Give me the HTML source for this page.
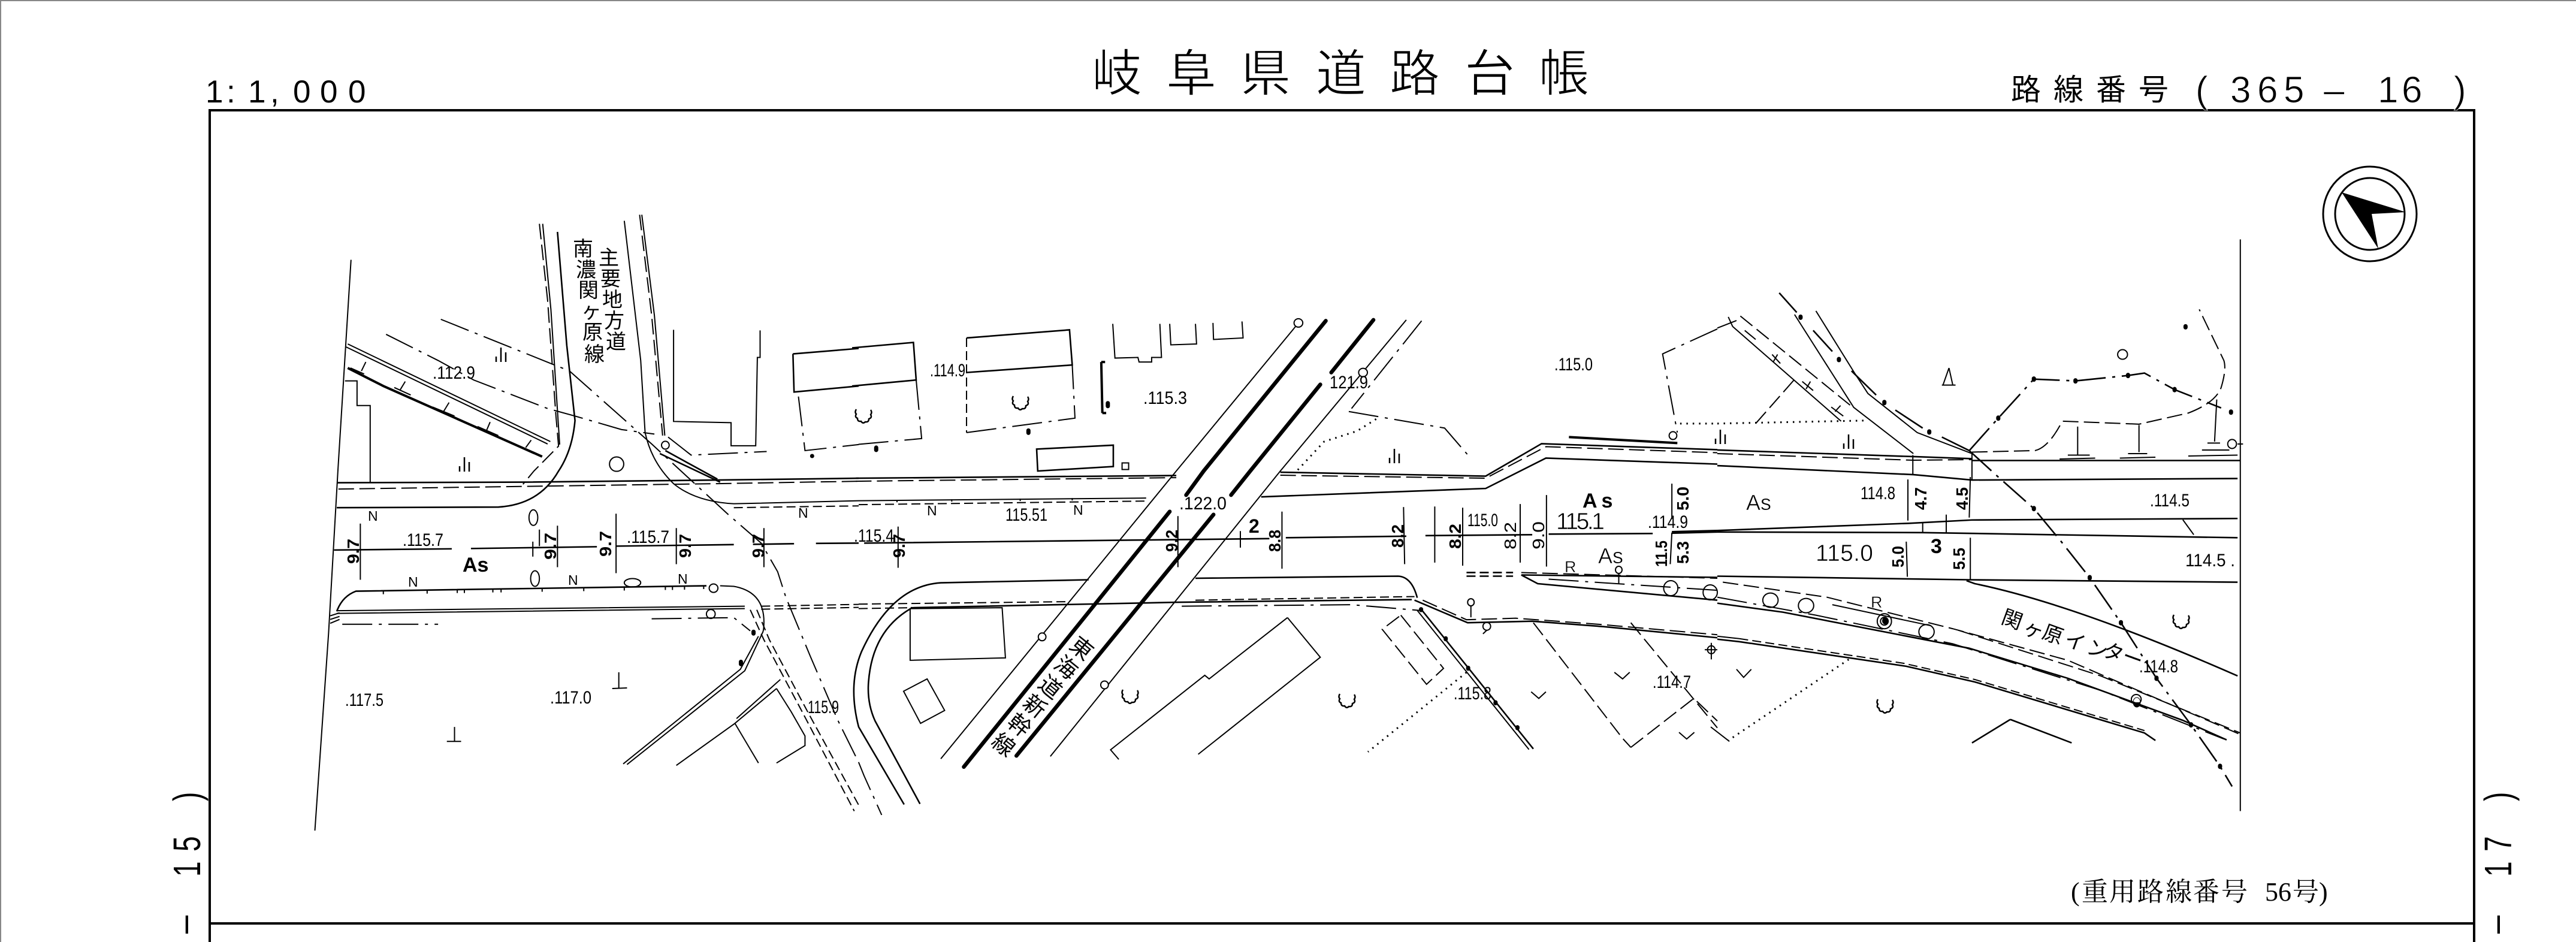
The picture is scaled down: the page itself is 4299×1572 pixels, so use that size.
<!DOCTYPE html>
<html lang="ja"><head><meta charset="utf-8"><title>岐阜県道路台帳</title>
<style>
html,body{margin:0;padding:0;background:#fff}
svg{display:block}
text{font-family:"Liberation Sans","Noto Sans CJK JP",sans-serif;fill:#000}
path,ellipse,rect,polygon{vector-effect:non-scaling-stroke}
.l path,.l ellipse{fill:none;stroke:#000;stroke-width:2}
.l .m{stroke-width:2.6}
.l .b{stroke-width:4}
.l .k{stroke-width:6.5;stroke-linecap:round}
.l .da{stroke-dasharray:26 9}
.l .ds{stroke-dasharray:15 7}
.l .dd{stroke-dasharray:50 11 5 11}
.l .do{stroke-dasharray:2.5 8;stroke-width:3}
.l .c{stroke-width:7;stroke-linecap:round}
.n{font-size:30px}
.r{font-size:28px;font-weight:bold}
</style></head>
<body>
<svg xmlns="http://www.w3.org/2000/svg" width="4299" height="1572" viewBox="0 0 4299 1572">
<defs>
<path id="s" d="M0-12v24M-8 3v9M8-4v16" fill="none" stroke="#000" stroke-width="2.5"/>
<path id="t" d="M-13-11q-3 5 0 8q-3 5 2 7q0 6 6 5q3 5 7 1q6 1 6-5q6-2 3-7q3-4 0-8" fill="none" stroke="#000" stroke-width="2.5"/>
</defs>
<rect width="4299" height="1572" fill="#fff"/>
<path d="M0 1H4299M1 0V1572" stroke="#888" stroke-width="2" fill="none"/>
<!-- frame -->
<path d="M350 1572V184H4129V1572M350 1541H4129" fill="none" stroke="#000" stroke-width="4"/>

<!-- column 1 -->
<g class="l" transform="translate(0,0) scale(.9139,.5013)">
<path d="M641 865L617 1568L600 2108L575 2765"/>
<path class="m" d="M615 1607L960 1605L1310 1598L1568 1592"/>
<path class="da" d="M618 1628L1310 1610L1568 1602"/>
<path class="m" d="M1018 772L1035 1150L1050 1400Q1045 1500 1020 1568Q985 1680 910 1688L615 1690"/>
<path class="da" d="M985 745L1000 1000L1015 1380L1020 1485L975 1568L955 1612"/>
<path d="M991 745L1006 1030L1022 1480"/>
<path d="M1140 735L1170 1200L1178 1440Q1190 1540 1230 1610Q1270 1670 1340 1677L1568 1667"/>
<path class="da" d="M1168 715L1190 1050L1210 1450"/>
<path d="M1172 715L1195 1050L1214 1450"/>
<path class="m" d="M1205 1510L1315 1605M1215 1500L1310 1595"/>
<path class="ds" d="M1340 1690L1568 1684"/>
<path d="M635 1145L1005 1470M632 1155L1000 1478"/>
<path class="b" d="M635 1225L700 1285L990 1520"/>
<path d="M640 1225L665 1245M668 1205L660 1235M720 1290L750 1315M740 1270L730 1300M790 1355L830 1385M820 1340L810 1370M872 1420L910 1450M895 1405L888 1435M945 1485L975 1510M970 1465L960 1490"/>
<path d="M630 1268H652V1350H676V1606"/>
<path class="dd" d="M805 1063L1040 1235L1190 1478L1330 1713L1390 1808L1420 1903L1435 1988L1480 2186L1530 2398L1568 2538"/>
<path class="dd" d="M705 1113L800 1200L865 1265L1000 1360L1050 1385L1135 1430L1195 1445"/>
<path class="dd" d="M1220 1455L1262 1515L1400 1503"/>
<path d="M1230 1098V1403L1335 1407V1484H1380L1383 1190H1388V1100"/>
<path class="m" d="M1448 1178L1568 1160M1448 1178L1450 1305L1568 1285"/>
<path class="dd" d="M1458 1320L1470 1500L1568 1480"/>
<path class="c" d="M1483 1518h0"/>
<ellipse cx="1126" cy="1545" rx="13" ry="24"/>
<ellipse cx="1215" cy="1482" rx="7" ry="13"/>
<!-- centre -->
<path class="m" d="M610 1831L825 1827M860 1826L1090 1820M1125 1818L1340 1813M1375 1812L1450 1810M1490 1809L1568 1808"/>
<path d="M658 1743V1930M1018 1750V1888M1125 1710V1908M1235 1758V1878M1395 1758V1888M973 1803V1853M985 1763V1818"/>
<!-- lower road -->
<path class="m" d="M615 2035Q625 1985 650 1968L1290 1950"/>
<path d="M1315 1950L1340 1952Q1395 1970 1395 2070Q1395 2100 1392 2108L1360 2233L1145 2545"/>
<path d="M1385 2118L1352 2228L1138 2543"/>
<path d="M700 1968v10M780 1966v10M835 1964v10M848 1964v10M900 1962v10M915 1962v10M990 1960v10M1066 1958v10M1140 1956v10M1215 1954v10M1228 1954v10M1250 1953v10M1285 1951v10"/>
<path d="M615 2033L1360 2018M615 2042L1360 2026"/>
<path class="ds" d="M1390 2018L1568 2012M1390 2028L1568 2022"/>
<path class="dd" d="M625 2078H800M1190 2060L1340 2056L1370 2100"/>
<path d="M603 2050L620 2040M603 2062L620 2052M603 2075L620 2062"/>
<ellipse cx="1303" cy="1958" rx="8" ry="14"/>
<ellipse cx="1298" cy="2044" rx="8" ry="15"/>
<path class="c" d="M1376 2103v6M1353 2203v8"/>
<path class="ds" d="M1370 2030L1395 2130L1465 2370L1560 2700"/>
<path class="ds" d="M1382 2030L1405 2130L1475 2370L1568 2680"/>
<path d="M1425 2262L1345 2392M1418 2292L1342 2408L1385 2540M1418 2292L1445 2370L1470 2450V2482L1418 2540M1342 2408L1235 2548"/>
<path d="M1130 2238V2290M1118 2292L1145 2290M830 2420V2466M816 2468H842"/>
<ellipse cx="974" cy="1723" rx="8" ry="26"/><ellipse cx="977" cy="1926" rx="8" ry="26"/>
<ellipse cx="1155" cy="1940" rx="15" ry="14"/>
</g>

<!-- column 2 -->
<g class="l" transform="translate(1433,0) scale(.9139,.5013)">
<path class="m" d="M-12 1158L100 1140L105 1265L-12 1285"/>
<path class="dd" d="M105 1265L115 1460L-5 1480"/>
<path class="m" d="M197 1125L385 1098L390 1215L197 1240"/>
<path class="ds" d="M197 1125L197 1440"/>
<path class="dd" d="M197 1440L395 1392L390 1215"/>
<path class="c" d="M32 1490v8M310 1433v8"/>
<path d="M464 1078L468 1192L510 1190L512 1205H535V1190H553L550 1078M568 1078L570 1148L617 1145L615 1078M647 1075L648 1130L702 1125L700 1070"/>
<path class="b" d="M443 1205L445 1375M443 1205h7M445 1375h7"/>
<path class="c" d="M455 1342v10"/>
<path class="m" d="M325 1495L465 1482V1553L327 1568Z"/>
<path d="M481 1541h12v22h-12z"/>
<!-- road -->
<path class="m" d="M-5 1592L580 1583"/><path class="da" d="M-5 1602L580 1590"/>
<path class="m" d="M770 1572L1145 1585L1247 1477L1568 1497"/>
<path class="da" d="M770 1582L1145 1592L1255 1487L1568 1507"/>
<path class="m" d="M735 1654L1145 1626L1255 1525L1568 1545"/>
<path d="M0 1667L525 1658"/><path class="ds" d="M0 1680L525 1668"/>
<path d="M70 1664v8M170 1662v8M295 1660v8M390 1658v8"/>
<!-- railway -->
<path d="M800 1082L580 1568L150 2526M1000 1065L770 1568L350 2518"/>
<path class="dd" d="M1028 1068L900 1360"/>
<path class="k" d="M853 1068L630 1568L598 1648M568 1703L192 2553"/>
<path class="k" d="M940 1065L863 1240M843 1280L715 1568L680 1648M648 1713L288 2516"/>
<ellipse cx="803" cy="1075" rx="8" ry="14" style="fill:#fff"/>
<ellipse cx="921" cy="1240" rx="8" ry="14" style="fill:#fff"/>
<ellipse cx="335" cy="2120" rx="7" ry="13" style="fill:#fff"/>
<ellipse cx="449" cy="2280" rx="7" ry="13" style="fill:#fff"/>
<path class="dd" d="M895 1370L1070 1425L1115 1520"/>
<path class="do" d="M945 1395L910 1435L850 1470L800 1568"/>
<path class="dd" d="M1568 1095L1468 1178L1495 1440"/>
<path class="b" d="M1297 1455L1495 1475"/>
<ellipse cx="1487" cy="1450" rx="7" ry="13"/>
<path class="do" d="M1500 1410H1568"/>
<!-- centre -->
<path class="m" d="M10 1808L500 1798L750 1793M780 1790L1000 1785M1035 1783L1230 1780M1260 1778L1450 1776M1485 1770L1568 1766M1485 1775L1568 1771"/>
<path d="M72 1753V1890M583 1718V1888M697 1768V1823M773 1703V1893M995 1688L997 1878M1052 1686V1873M1103 1690V1883M1208 1678V1873M1256 1648V1886M1485 1610V1728M1485 1773L1482 1878"/>
<!-- lower -->
<path class="m" d="M420 1930L150 1940Q60 1950 5 2170Q-20 2280 0 2420L83 2678"/>
<path class="m" d="M95 2026Q25 2100 18 2270Q15 2340 30 2400L112 2676"/>
<path class="m" d="M615 1925L985 1918Q1010 1920 1020 1990"/>
<path class="m" d="M95 2023L580 2005L1010 1996"/>
<path class="ds" d="M0 2011L380 2003M0 2026L95 2023M615 1998L1015 1986"/>
<path class="dd" d="M590 2018L900 2013L1030 2033"/>
<path class="m" d="M1015 1998L1112 2073L1230 2068L1360 2086L1568 2123"/>
<path class="da" d="M1030 1998L1110 2063L1200 2058L1350 2078L1568 2113"/>
<path class="dd" d="M0 2538L10 2583L42 2713"/>
<path d="M94 2026L262 2023L268 2190L94 2198ZM125 2260L157 2365L113 2408L82 2301Z"/>
<path d="M783 2056L843 2188L620 2511M783 2056L640 2260L632 2248L460 2496L475 2528"/>
<path class="da" d="M990 2048L1068 2225L1037 2278L956 2095Z"/>
<path class="do" d="M1110 2238L930 2503"/>
<path class="m" d="M1028 2030L1232 2493"/>
<path d="M1020 2032L1224 2495"/>
<path class="c" d="M1027 2028v3M1072 2125v3M1113 2223v3M1163 2338v3M1203 2421v3"/>
<path class="da" d="M1232 2073L1395 2458L1410 2488M1410 2073L1568 2423"/>
<path class="da" d="M1410 2488L1525 2325L1568 2400"/>
<path d="M1380 2238L1395 2260L1408 2238M1228 2303L1242 2325L1255 2303M1498 2438L1512 2460L1526 2438"/>
<ellipse cx="1118" cy="2005" rx="6" ry="12"/><path d="M1118 2017V2055"/>
<ellipse cx="1147" cy="2085" rx="7" ry="13"/><path d="M1140 2110L1147 2098"/>
<ellipse cx="1557" cy="2163" rx="7" ry="13"/><path d="M1557 2140V2195M1545 2163H1568"/>
<!-- R lane -->
<path class="ds m" d="M1110 1906H1195M1110 1918H1195"/>
<path class="da" d="M1210 1906L1568 1925"/>
<path class="m" d="M1210 1914L1568 1922M1210 1914L1240 1943L1568 1998"/>
<path class="dd" d="M1260 1928L1568 1965"/>
<ellipse cx="1483" cy="1958" rx="13" ry="25"/><ellipse cx="1555" cy="1972" rx="13" ry="25"/>
<ellipse cx="1388" cy="1897" rx="6" ry="12"/><path d="M1388 1910V1945"/>
</g>

<!-- column 3 -->
<g class="l" transform="translate(2866,0) scale(.9139,.5013)">
<path d="M955 797V2700"/>
<path class="m" d="M0 1498L358 1520L465 1527"/>
<path class="da" d="M0 1510L358 1532L465 1530"/>
<path class="m" d="M0 1550L358 1580L465 1598L950 1593"/>
<path d="M357 1515V1580M465 1505V1598"/>
<path class="m" d="M465 1533L955 1533"/>
<path class="m" d="M0 1766L350 1742L465 1731L950 1726M0 1771L375 1773L950 1790"/>
<path d="M348 1596V1733M462 1588L460 1723M375 1740V1773M418 1713V1773M345 1803L347 1920M462 1790V1928"/>
<path class="m" d="M0 1918L460 1930L950 1938"/>
<path class="m" d="M455 1933L470 1943Q650 2010 950 2250"/>
<!-- north road band -->
<path class="da" d="M10 1938L200 1988L430 2093L640 2198L955 2445"/>
<path class="da" d="M440 2098L700 2250L955 2440"/>
<path class="dd" d="M0 1988L180 2048L430 2143L700 2298L925 2460"/>
<path class="m" d="M0 2008L120 2038L460 2158L640 2258L850 2398L930 2463"/>
<path d="M210 2013L390 2083"/>
<path class="m" d="M0 2128L40 2136L345 2218L470 2270L780 2440L800 2465"/>
<path d="M0 2118L40 2126"/><path class="ds" d="M40 2126L230 2178L340 2208L470 2262L780 2432"/>
<path class="do" d="M240 2195L20 2465"/>
<path class="dd" d="M-12 2420L22 2468"/>
<ellipse cx="97" cy="1998" rx="14" ry="24"/><ellipse cx="162" cy="2016" rx="14" ry="24"/><ellipse cx="382" cy="2103" rx="14" ry="24"/>
<ellipse cx="305" cy="2068" rx="13" ry="25"/><ellipse cx="305" cy="2068" rx="7" ry="13"/>
<ellipse cx="765" cy="2328" rx="9" ry="16"/>
<!-- parallel lines -->
<path d="M180 1035L250 1240L275 1310L365 1440L465 1510"/>
<path d="M141 1047L249 1356L358 1510"/>
<path class="m" d="M113 975L145 1040M175 1100L210 1170M245 1235L290 1315M325 1365L375 1425M410 1455L460 1500"/>
<path class="c" d="M152 1054v4M222 1195v4M305 1338v4M387 1436v4"/>
<path class="dd m" d="M460 1500L510 1583L578 1693L628 1803L680 1923L737 2073L802 2258L865 2413L918 2551L940 2618"/>
<path class="c" d="M578 1691v4M680 1921v4M737 2071v4M802 2256v4M865 2411v4M918 2549v4"/>
<!-- lot -->
<path class="dd" d="M35 1067L0 1092"/>
<path d="M28 1087L226 1402M20 1055L28 1087"/>
<path class="da" d="M42 1052L250 1360"/>
<path class="da" d="M70 1410L140 1265"/>
<path class="do" d="M0 1410L270 1400"/>
<path d="M50 1100l20 30M110 1180l-8 25M100 1180l15 30M170 1270l-8 25M155 1270l20 30M225 1350l-10 20M208 1355l22 30"/>
<path class="dd m" d="M460 1500L513 1392L578 1262L654 1268L750 1250L780 1242L835 1297L920 1358"/>
<path class="c" d="M513 1390v4M578 1260v4M654 1266v4M750 1248v4M835 1295v4M938 1370v4M855 1086v4"/>
<path class="da" d="M465 1505L580 1500Q605 1490 630 1402L770 1412L860 1375Q910 1340 920 1290Q930 1230 925 1200L880 1030"/>
<ellipse cx="740" cy="1180" rx="9" ry="16"/>
<path d="M423 1225L412 1282M423 1225L430 1282M410 1282H435"/>
<path d="M658 1420V1515M625 1528L690 1525M640 1515H680M770 1415V1505M735 1525L800 1522M750 1510H785M912 1330L908 1470M860 1518L950 1515M885 1498H935M895 1475H918"/>
<ellipse cx="940" cy="1478" rx="8" ry="15"/>
<path d="M960 1478h-10"/>
<path d="M850 1730L870 1780"/>
<path class="m" d="M535 2395L465 2473M535 2395L647 2473"/>
<path d="M35 2228L48 2255L62 2228"/>
</g>
<!-- north arrow -->
<g fill="none" stroke="#000" stroke-width="3">
<ellipse cx="3955" cy="357" rx="78" ry="79"/>
<ellipse cx="3955" cy="357" rx="58" ry="60"/>
</g>
<polygon points="3908,321 4015,354 3958,357 3969,415" fill="#000"/>
<ellipse cx="3146" cy="1036" rx="5" ry="6" fill="#000"/>
<ellipse cx="3566" cy="1172" rx="6" ry="8" fill="none" stroke="#000" stroke-width="1"/>
<path d="M3560 1172a6 8 0 0 0 12 0z" fill="#000"/>
<!-- marks -->
<use href="#s" x="836" y="592"/><use href="#s" x="775" y="775"/><use href="#s" x="2327" y="761"/><use href="#s" x="3085" y="737"/><use href="#s" x="2871" y="729"/>
<use href="#t" x="1704" y="672"/><use href="#t" x="1442" y="694"/><use href="#t" x="1887" y="1162"/><use href="#t" x="2249" y="1169"/><use href="#t" x="3641" y="1037"/><use href="#t" x="3147" y="1178"/>

<!-- heading -->
<text font-size="84" x="1822 1946 2070 2196 2319 2444 2568" y="152 152 152 152 152 152 152" stroke="#fff" stroke-width="1.4">岐阜県道路台帳</text>
<text font-size="53" x="343 378 414 451 489 534 581" y="171 171 171 171 171 171 171">1:1,000</text>
<text font-size="50" x="3356 3427 3498 3569" y="167 167 167 167">路線番号</text>
<text font-size="62" x="3664 3722 3767 3811 3878 3968 4008 4095" y="171 171 171 171 171 171 171 171" stroke="#fff" stroke-width=".8">(365–16)</text>
<!-- side page numbers -->
<g font-size="64">
<text transform="translate(328,1558) rotate(-90) scale(.85,1)">–</text>
<text transform="translate(334,1463) rotate(-90) scale(.72,1)">1</text>
<text transform="translate(334,1421) rotate(-90) scale(.72,1)">5</text>
<text transform="translate(334,1337) rotate(-90) scale(.72,1)">)</text>
<text transform="translate(4186,1558) rotate(-90) scale(.85,1)">–</text>
<text transform="translate(4191,1463) rotate(-90) scale(.72,1)">1</text>
<text transform="translate(4191,1421) rotate(-90) scale(.72,1)">7</text>
<text transform="translate(4191,1337) rotate(-90) scale(.72,1)">)</text>
</g>
<text font-size="44" style="font-family:'Liberation Serif','Noto Serif CJK SC',serif" x="3456 3474 3520 3567 3614 3660 3707 3770 3780 3802 3826 3870" y="1503 1503 1503 1503 1503 1503 1503 1503 1503 1503 1503 1503">(重用路線番号 56号)</text>

<!-- road names -->
<text font-size="34" x="999 1002 1005 1008 1011" y="442 477 512 547 582">主要地方道</text>
<text font-size="34" x="956 961 965 970 972 975" y="427 462 496 531 566 603">南濃関ヶ原線</text>
<text font-size="37" transform="translate(1805,1082) rotate(39)" text-anchor="middle" x="0 0 0 0 0 0" y="13 54 96 137 178 220">東海道新幹線</text>
<text font-size="34" x="3338 3374 3406 3443 3480 3507 3539" y="1039 1056 1064 1076 1089 1094 1104" rotate="20 20 20 20 20 20 20">関ヶ原インター</text>

<!-- elevations -->
<g class="n">
<text x="722" y="632" textLength="71" lengthAdjust="spacingAndGlyphs">.112.9</text>
<text x="1552" y="628" textLength="59" lengthAdjust="spacingAndGlyphs">.114.9</text>
<text x="1908" y="674" textLength="73" lengthAdjust="spacingAndGlyphs">.115.3</text>
<text x="2219" y="648" textLength="64" lengthAdjust="spacingAndGlyphs">121.9</text>
<text x="2594" y="618" textLength="64" lengthAdjust="spacingAndGlyphs">.115.0</text>
<text x="672" y="911" textLength="68" lengthAdjust="spacingAndGlyphs">.115.7</text>
<text x="1046" y="906" textLength="71" lengthAdjust="spacingAndGlyphs">.115.7</text>
<text x="1425" y="904" textLength="67" lengthAdjust="spacingAndGlyphs">.115.4</text>
<text x="576" y="1178" textLength="64" lengthAdjust="spacingAndGlyphs">.117.5</text>
<text x="918" y="1174" textLength="69" lengthAdjust="spacingAndGlyphs">.117.0</text>
<text x="1348" y="1190" textLength="52" lengthAdjust="spacingAndGlyphs">115.9</text>
<text x="1678" y="869" textLength="70" lengthAdjust="spacingAndGlyphs">115.51</text>
<text x="1968" y="850" textLength="79" lengthAdjust="spacingAndGlyphs">.122.0</text>
<text x="2449" y="878" textLength="51" lengthAdjust="spacingAndGlyphs">115.0</text>
<text x="2750" y="881" textLength="67" lengthAdjust="spacingAndGlyphs">.114.9</text>
<text x="2758" y="1148" textLength="64" lengthAdjust="spacingAndGlyphs">.114.7</text>
<text x="2426" y="1167" textLength="63" lengthAdjust="spacingAndGlyphs">.115.8</text>
<text x="3105" y="833" textLength="58" lengthAdjust="spacingAndGlyphs">114.8</text>
<text x="3588" y="845" textLength="66" lengthAdjust="spacingAndGlyphs">.114.5</text>
<text x="3647" y="945" textLength="83" lengthAdjust="spacingAndGlyphs">114.5 .</text>
<text x="3570" y="1122" textLength="65" lengthAdjust="spacingAndGlyphs">.114.8</text>
</g>
<text x="2597" y="883" font-size="39" textLength="81" lengthAdjust="spacing" stroke="#fff" stroke-width=".6">115.1</text>
<text x="3030" y="936" font-size="39" textLength="96" lengthAdjust="spacing" stroke="#fff" stroke-width=".6">115.0</text>

<!-- N / As / R labels -->
<g font-size="23">
<text x="614" y="869">N</text><text x="681" y="979">N</text><text x="948" y="976">N</text><text x="1131" y="974">N</text><text x="1332" y="864">N</text><text x="1547" y="860">N</text><text x="1791" y="859">N</text>
</g>
<text x="772" y="954" font-size="34" font-weight="bold">As</text>
<text x="2641" y="847" font-size="34" font-weight="bold" letter-spacing="7">As</text>
<text x="2667" y="940" font-size="36" stroke="#fff" stroke-width=".6">As</text>
<text x="2914" y="851" font-size="36" stroke="#fff" stroke-width=".6">As</text>
<text x="2611" y="955" font-size="27" stroke="#fff" stroke-width=".4">R</text>
<text x="3122" y="1014" font-size="27" stroke="#fff" stroke-width=".4">R</text>
<text x="2084" y="889" font-size="32" font-weight="bold">2</text>
<text x="3222" y="923" font-size="34" font-weight="bold">3</text>

<!-- rotated widths -->
<g class="r">
<text transform="translate(599,941) rotate(-90)" textLength="42" lengthAdjust="spacingAndGlyphs">9.7</text>
<text transform="translate(928,934) rotate(-90)" textLength="45" lengthAdjust="spacingAndGlyphs">9.7</text>
<text transform="translate(1020,929) rotate(-90)" textLength="43" lengthAdjust="spacingAndGlyphs">9.7</text>
<text transform="translate(1153,931) rotate(-90)" textLength="40" lengthAdjust="spacingAndGlyphs">9.7</text>
<text transform="translate(1275,931) rotate(-90)" textLength="40" lengthAdjust="spacingAndGlyphs">9.7</text>
<text transform="translate(1510,931) rotate(-90)" textLength="40" lengthAdjust="spacingAndGlyphs">9.7</text>
<text transform="translate(1965,921) rotate(-90)" textLength="37" lengthAdjust="spacingAndGlyphs">9.2</text>
<text transform="translate(2137,921) rotate(-90)" textLength="37" lengthAdjust="spacingAndGlyphs">8.8</text>
<text transform="translate(2342,914) rotate(-90)" textLength="39" lengthAdjust="spacingAndGlyphs">8.2</text>
<text transform="translate(2438,916) rotate(-90)" textLength="42" lengthAdjust="spacingAndGlyphs">8.2</text>
<text transform="translate(2530,917) rotate(-90)" textLength="46" lengthAdjust="spacingAndGlyphs" font-weight="normal">8.2</text>
<text transform="translate(2577,917) rotate(-90)" textLength="47" lengthAdjust="spacingAndGlyphs" font-weight="normal">9.0</text>
<text transform="translate(2818,852) rotate(-90)" textLength="40" lengthAdjust="spacingAndGlyphs">5.0</text>
<text transform="translate(2782,946) rotate(-90)" textLength="44" lengthAdjust="spacingAndGlyphs">11.5</text>
<text transform="translate(2818,941) rotate(-90)" textLength="38" lengthAdjust="spacingAndGlyphs">5.3</text>
<text transform="translate(3215,851) rotate(-90)" textLength="38" lengthAdjust="spacingAndGlyphs">4.7</text>
<text transform="translate(3284,851) rotate(-90)" textLength="38" lengthAdjust="spacingAndGlyphs">4.5</text>
<text transform="translate(3177,947) rotate(-90)" textLength="36" lengthAdjust="spacingAndGlyphs">5.0</text>
<text transform="translate(3279,951) rotate(-90)" textLength="37" lengthAdjust="spacingAndGlyphs">5.5</text>
</g>
</svg>
</body></html>
